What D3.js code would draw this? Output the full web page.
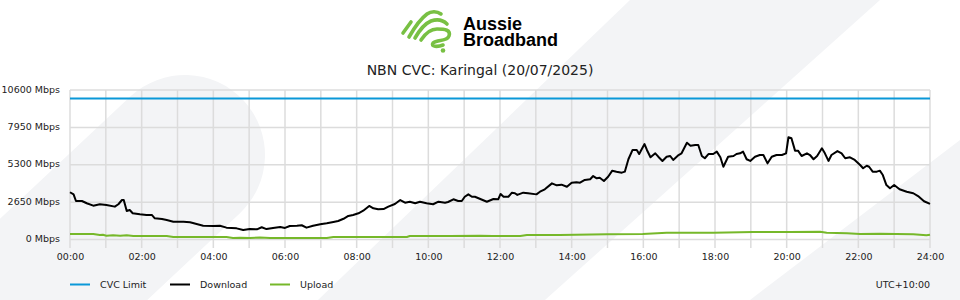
<!DOCTYPE html>
<html><head><meta charset="utf-8">
<script src="https://cdn.jsdelivr.net/npm/d3@7/dist/d3.min.js"></script>
<style>
html,body{margin:0;padding:0;background:#fff;}
svg{display:block;font-family:"DejaVu Sans",sans-serif;}
</style></head><body>
<svg id="chart" width="960" height="300"></svg>
<script>
// ---- data ----
const brandLine1 = "Aussie";
const brandLine2 = "Broadband";
const title = "NBN CVC: Karingal (20/07/2025)";
const yTickValues = [0, 2650, 5300, 7950, 10600];
const yTickLabels = ["0 Mbps", "2650 Mbps", "5300 Mbps", "7950 Mbps", "10600 Mbps"];
const xTickHours = [0, 2, 4, 6, 8, 10, 12, 14, 16, 18, 20, 22, 24];
const xTickLabels = ["00:00","02:00","04:00","06:00","08:00","10:00","12:00","14:00","16:00","18:00","20:00","22:00","24:00"];
const cvcLimitMbps = 10000;
const downloadMinutes = [0,6,10,20,28,39,50,61,75,81,87,90,95,100,105,117,128,137,142,154,162,173,190,201,212,223,240,251,262,279,290,301,313,321,329,340,352,360,368,380,388,396,407,419,430,441,449,458,466,474,483,491,501,508,516,525,533,544,553,561,569,578,586,597,608,617,628,633,642,650,656,661,667,673,678,687,698,709,717,721,726,734,740,745,749,759,767,781,787,795,807,815,823,832,840,848,854,862,871,876,882,887,894,901,908,915,924,929,935,942,949,953,962,966,972,980,985,992,999,1005,1010,1019,1024,1033,1039,1047,1052,1058,1063,1069,1077,1083,1089,1094,1102,1111,1116,1122,1127,1133,1139,1147,1155,1161,1168,1175,1183,1192,1199,1203,1208,1214,1219,1225,1234,1239,1245,1251,1259,1264,1270,1275,1285,1292,1298,1306,1314,1323,1328,1334,1338,1344,1351,1356,1361,1367,1373,1380,1389,1401,1412,1420,1430,1440];
const downloadMbps = [3350,3200,2730,2730,2570,2400,2500,2450,2330,2500,2800,2800,2020,2090,1860,1790,1740,1740,1500,1450,1380,1260,1260,1220,1100,980,960,980,840,790,670,740,720,870,740,820,890,820,960,980,1010,840,980,1080,1150,1240,1310,1470,1670,1740,1860,2040,2380,2210,2140,2160,2330,2520,2800,2610,2680,2570,2680,2570,2500,2680,2610,2660,2850,2730,2730,3030,3200,3030,3030,2870,2680,2870,2850,3230,3030,3030,3320,3280,3160,3320,3280,3200,3390,3560,3980,3840,3890,3740,4030,4060,4030,4220,4270,4500,4340,4380,4150,4450,4880,4810,4740,4810,5690,6350,6350,6060,6770,6350,5830,6110,5870,5570,5870,5920,5640,5990,6110,6860,6650,6700,6700,5920,5760,6060,6060,6230,5830,5160,5870,5920,6060,6110,6230,5690,5570,5870,5990,5990,5400,5870,5990,5990,6110,7250,7180,6300,6300,5920,6110,5990,5690,5920,6470,6110,5570,5990,6270,6110,5760,5830,5640,5280,5050,5230,5160,4810,4810,4880,4570,3860,3630,3860,3560,3390,3280,3080,2710,2520];
const uploadMinutes = [0,39,50,55,61,72,84,95,106,134,162,173,218,262,273,285,301,318,335,385,430,441,519,564,569,636,687,708,754,765,820,899,959,999,1077,1144,1206,1256,1267,1301,1323,1356,1412,1434,1440];
const uploadMbps = [390,390,320,340,270,300,270,300,250,250,250,180,180,180,110,130,110,140,110,110,110,180,180,180,250,250,270,250,250,320,320,370,390,480,480,530,530,550,480,440,390,410,370,300,340];
const legendLabels = ["CVC Limit", "Download", "Upload"];
const seriesColors = ["#0a98d8", "#000000", "#76b82a"];
const timezoneLabel = "UTC+10:00";

// ---- layout ----
const svg = d3.select("#chart");
const plotLeft = 70, plotRight = 930, plotTop = 90, plotBottom = 239.5;
const labelFont = "'DejaVu Sans', sans-serif";

// decorative watermark background
const bg = svg.append("g").attr("fill", "#f3f4f6").attr("stroke", "none");
bg.append("line").attr("x1", 185).attr("y1", 155).attr("x2", -180).attr("y2", 497)
  .attr("stroke", "#f3f4f6").attr("stroke-width", 160).attr("stroke-linecap", "round");
bg.append("path").attr("d", "M630,0 L880,0 L545,300 L318,300 Z");
bg.append("path").attr("d", "M750,300 L960,140 L960,300 Z");

const x = d3.scaleLinear().domain([0, 1440]).range([plotLeft, plotRight]);
const y = d3.scaleLinear().domain([0, 10600]).range([plotBottom, plotTop]);

// grid
const grid = svg.append("g").attr("stroke", "#dcdcdc").attr("stroke-width", 1.5);
grid.selectAll("line.h").data(yTickValues).join("line").attr("class", "h")
  .attr("x1", plotLeft).attr("x2", plotRight).attr("y1", d => y(d)).attr("y2", d => y(d));
grid.selectAll("line.v").data(d3.range(0, 25)).join("line").attr("class", "v")
  .attr("x1", d => x(d * 60)).attr("x2", d => x(d * 60)).attr("y1", plotTop).attr("y2", plotBottom + 8.5);

// y axis labels
const yAxis = d3.axisLeft(y).tickValues(yTickValues)
  .tickFormat((d, i) => yTickLabels[i]).tickSize(0).tickPadding(10);
const gy = svg.append("g").attr("transform", `translate(${plotLeft},0)`).call(yAxis);
gy.select(".domain").remove();
gy.selectAll("text").style("font-size", "9.5px").style("font-family", labelFont)
  .attr("fill", "#222").attr("dy", "0.22em");

// x axis labels
const xAxis = d3.axisBottom(x).tickValues(xTickHours.map(h => h * 60))
  .tickFormat((d, i) => xTickLabels[i]).tickSize(0).tickPadding(13.5);
const gx = svg.append("g").attr("transform", `translate(0,${plotBottom})`).call(xAxis);
gx.select(".domain").remove();
gx.selectAll("text").style("font-size", "9.5px").style("font-family", labelFont).attr("fill", "#222");

// series
const line = d3.line().x(d => x(d[0])).y(d => y(d[1]));
svg.append("line").attr("x1", plotLeft).attr("x2", plotRight)
  .attr("y1", y(cvcLimitMbps)).attr("y2", y(cvcLimitMbps))
  .attr("stroke", seriesColors[0]).attr("stroke-width", 2);
svg.append("path").datum(uploadMinutes.map((m, i) => [m, uploadMbps[i]]))
  .attr("d", line).attr("fill", "none").attr("stroke", seriesColors[2])
  .attr("stroke-width", 2).attr("stroke-linejoin", "round");
svg.append("path").datum(downloadMinutes.map((m, i) => [m, downloadMbps[i]]))
  .attr("d", line).attr("fill", "none").attr("stroke", seriesColors[1])
  .attr("stroke-width", 2).attr("stroke-linejoin", "round");

// title
svg.append("text").attr("x", 480).attr("y", 75).attr("text-anchor", "middle")
  .style("font-size", "14px").style("font-family", labelFont).attr("fill", "#222").text(title);

// logo
const logo = svg.append("g").attr("fill", "none").attr("stroke", "#78c043")
  .attr("stroke-width", 3.6).attr("stroke-linecap", "round").attr("stroke-linejoin", "round");
logo.append("path").attr("d", "M403,33 L411,22");
logo.append("path").attr("d", "M409,37 C413,30 419,20 427,14 C431,11 437,11 441,14");
logo.append("path").attr("d", "M415,38 C419,31 424,24 431,21 C437,19 443,20 447,24");
logo.append("path").attr("d", "M421,40 C425,34 430,29 437,29 C445,29 451,30 449,36 C447,42 437,39 433,43 C430,47 438,47 443,45");
svg.append("circle").attr("cx", 443).attr("cy", 50.5).attr("r", 2.3).attr("fill", "#78c043");
const brand = svg.append("text").attr("x", 463).attr("y", 29.5)
  .style("font-family", "'Liberation Sans', Arial, sans-serif").style("font-weight", "bold")
  .style("font-size", "18px").attr("fill", "#000");
brand.append("tspan").attr("x", 463).attr("y", 29.5).text(brandLine1);
brand.append("tspan").attr("x", 463).attr("y", 46).text(brandLine2);

// legend
const lg = svg.append("g").style("font-size", "9.5px").style("font-family", labelFont).attr("fill", "#222");
legendLabels.forEach((lab, i) => {
  const lx = plotLeft + i * 100;
  lg.append("line").attr("x1", lx).attr("x2", lx + 20).attr("y1", 284.5).attr("y2", 284.5)
    .attr("stroke", seriesColors[i]).attr("stroke-width", 2);
  lg.append("text").attr("x", lx + 30).attr("y", 288).text(lab);
});
lg.append("text").attr("x", plotRight).attr("y", 288).attr("text-anchor", "end").text(timezoneLabel);
</script>
</body></html>
